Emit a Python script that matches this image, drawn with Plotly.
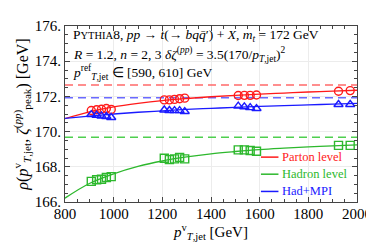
import plotly.graph_objects as go

# ---- data ----
pt = [908, 930, 950, 970, 990, 1208, 1229, 1250, 1271, 1292, 1512, 1537, 1561, 1587, 1924, 1972]
parton = [171.20, 171.24, 171.27, 171.31, 171.26, 171.80, 171.80, 171.83, 171.87, 171.90,
          172.05, 172.06, 172.06, 172.08, 172.29, 172.33]
hadron = [167.17, 167.26, 167.29, 167.39, 167.44, 168.49, 168.41, 168.45, 168.53, 168.45,
          168.96, 168.96, 168.93, 168.88, 169.22, 169.22]
hadmpi = [170.97, 170.93, 170.89, 170.86, 170.80, 171.23, 171.20, 171.19, 171.19, 171.14,
          171.45, 171.41, 171.36, 171.31, 171.54, 171.54]

curve_pt = [800, 900, 1000, 1100, 1200, 1300, 1400, 1500, 1600, 1700, 1800, 1900, 2000]
parton_fit = [170.74, 171.12, 171.40, 171.60, 171.76, 171.88, 171.98, 172.06, 172.13, 172.19, 172.25, 172.30, 172.35]
hadron_fit = [166.22, 167.05, 167.60, 168.02, 168.33, 168.56, 168.74, 168.87, 168.98, 169.06, 169.13, 169.19, 169.25]
hadmpi_fit = [170.75, 170.88, 171.00, 171.10, 171.18, 171.26, 171.32, 171.38, 171.43, 171.48, 171.52, 171.56, 171.60]

ref_pt = [800, 2000]
parton_ref = [172.65, 172.65]
hadron_ref = [169.68, 169.68]
hadmpi_ref = [171.93, 171.93]

series_names = ["Parton level", "Hadron level", "Had+MPI"]

x_ticks = [800, 1000, 1200, 1400, 1600, 1800, 2000]
y_ticks = [166, 168, 170, 172, 174, 176]
y_ticktext = ["166.", "168.", "170.", "172.", "174.", "176."]

RED = "#ff1a1a"
GREEN = "#2db82d"
BLUE = "#1a1aff"
RED_D = "#ff6a6a"
GREEN_D = "#4fcf4f"
BLUE_D = "#6a6aff"
FONT = "Times New Roman, Liberation Serif, Tinos, Times, serif"

fig = go.Figure()

# reference dashed lines
for ys, c in [(parton_ref, RED_D), (hadmpi_ref, BLUE_D), (hadron_ref, GREEN_D)]:
    fig.add_trace(go.Scatter(x=ref_pt, y=ys, mode="lines", showlegend=False,
                             line=dict(color=c, width=1.5, dash="8px,5px"), hoverinfo="skip"))

# fit curves
for ys, c, nm in [(parton_fit, RED, series_names[0]), (hadron_fit, GREEN, series_names[1]),
                  (hadmpi_fit, BLUE, series_names[2])]:
    fig.add_trace(go.Scatter(x=curve_pt, y=ys, mode="lines", name=nm, showlegend=False,
                             line=dict(color=c, width=1.3, shape="spline")))

# data points
fig.add_trace(go.Scatter(x=pt, y=parton, mode="markers", showlegend=False,
                         marker=dict(symbol="circle-open", size=8, color=RED, line=dict(width=1.4))))
fig.add_trace(go.Scatter(x=pt, y=hadron, mode="markers", showlegend=False,
                         marker=dict(symbol="square-open", size=8, color=GREEN, line=dict(width=1.4))))
fig.add_trace(go.Scatter(x=pt, y=hadmpi, mode="markers", showlegend=False,
                         marker=dict(symbol="triangle-up-open", size=8, color=BLUE, line=dict(width=1.4))))

axis_common = dict(
    showline=True, linecolor="#444", linewidth=1, mirror="allticks",
    ticks="inside", ticklen=5, tickcolor="#444", tickwidth=1,
    showgrid=True, gridcolor="#ececec", gridwidth=1, zeroline=False,
)

fig.update_xaxes(range=[800, 2000], tickvals=x_ticks,
                 tickfont=dict(family=FONT, size=15, color="black"), ticklabelstandoff=-2,
                 minor=dict(dtick=50, ticks="inside", ticklen=3, tickcolor="#444", showgrid=False),
                 title=dict(text="<i>p</i><sup>v</sup><sub><i>T</i>,jet</sub> [GeV]",
                            font=dict(family=FONT, size=15, color="black"), standoff=0),
                 **axis_common)
fig.update_yaxes(range=[166, 176], tickvals=y_ticks, ticktext=y_ticktext,
                 tickfont=dict(family=FONT, size=15, color="black"),
                 minor=dict(dtick=0.5, ticks="inside", ticklen=3, tickcolor="#444", showgrid=False),
                 title=dict(text="<i>ρ</i>(<i>p</i><sup>v</sup><sub><i>T</i>,jet</sub>, <i>ζ</i><sup>(<i>pp</i>)</sup><sub>peak</sub>) [GeV]",
                            font=dict(family=FONT, size=16, color="black"), standoff=2),
                 **axis_common)

ann_font = dict(family=FONT, size=13.5, color="black")
texts = [
    "P<span style='font-size:10.5px'>YTHIA</span>8, <i>pp</i> → <i>t</i>(→ <i>bq</i><i>q̄</i>′) + <i>X</i>, <i>m<sub>t</sub></i> = 172 GeV",
    "<i>R</i> = 1.2, <i>n</i> = 2, 3 <i>δζ</i><sup>(<i>pp</i>)</sup> = 3.5(170/<i>p</i><sub><i>T</i>,jet</sub>)<sup>2</sup>",
    "<i>p</i><sup>ref</sup><sub><i>T</i>,jet</sub> ∈ [590, 610] GeV",
]
ys_ann = [0.946, 0.837, 0.735]
for t, ya in zip(texts, ys_ann):
    fig.add_annotation(text=t, xref="paper", yref="paper", x=0.02, y=ya, xanchor="left", yanchor="middle",
                       showarrow=False, font=ann_font)

# legend (line sample + coloured label)
leg_y = [0.255, 0.158, 0.060]
for nm, c, ly in zip(series_names, [RED, GREEN, BLUE], leg_y):
    fig.add_shape(type="line", xref="paper", yref="paper", x0=0.671, x1=0.731, y0=ly, y1=ly,
                  line=dict(color=c, width=1.5))
    fig.add_annotation(text=nm, xref="paper", yref="paper", x=0.738, y=ly, xanchor="left", yanchor="middle",
                       showarrow=False, font=dict(family=FONT, size=12.5, color=c))

fig.update_layout(
    width=374, height=242,
    margin=dict(l=57, r=16, t=10, b=48),
    plot_bgcolor="white", paper_bgcolor="white",
    showlegend=False,
)

fig.write_html("out.html")
